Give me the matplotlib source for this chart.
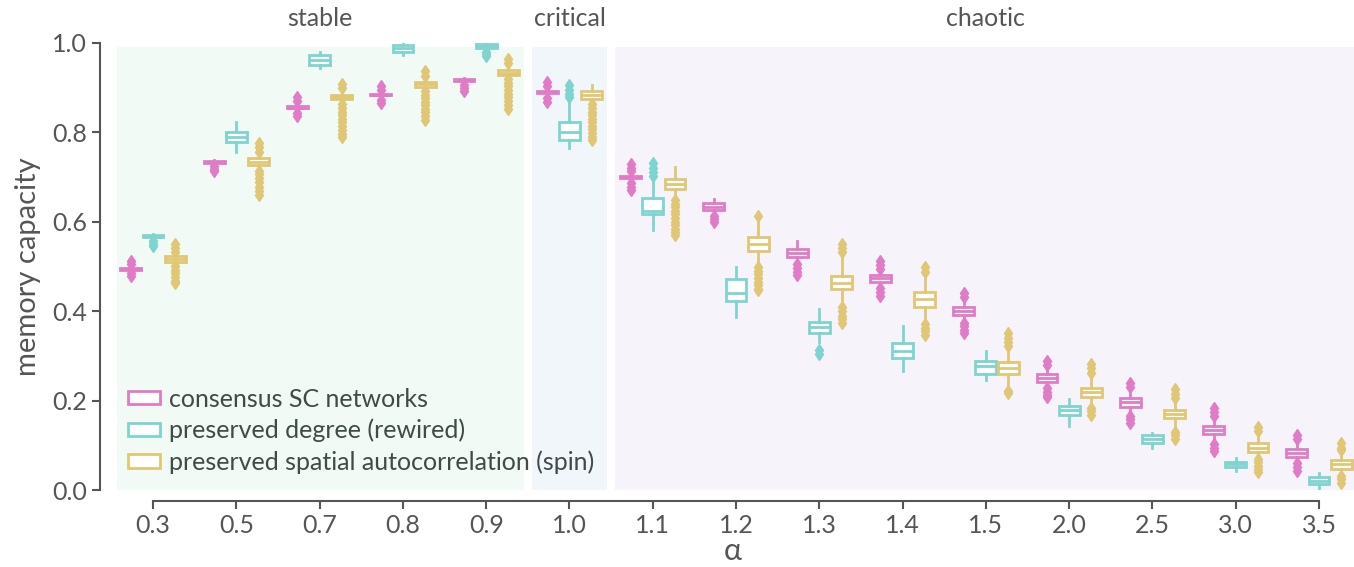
import numpy as np
import matplotlib
matplotlib.use('Agg')
import matplotlib.pyplot as plt
import matplotlib.transforms as mtransforms
from matplotlib.patches import Patch

plt.rcParams['font.family'] = ['Lato', 'DejaVu Sans']

alphas = ['0.3', '0.5', '0.7', '0.8', '0.9', '1.0', '1.1', '1.2', '1.3', '1.4',
          '1.5', '2.0', '2.5', '3.0', '3.5']
groups = ['consensus SC networks', 'preserved degree (rewired)',
          'preserved spatial autocorrelation (spin)']
colors = ['#e07cc6', '#7fd4d0', '#dfc776']

# consensus SC networks
cons_med = [0.494, 0.734, 0.855, 0.884, 0.916, 0.890, 0.700, 0.633, 0.530, 0.473, 0.400, 0.250, 0.196, 0.134, 0.083]
cons_q1 = [0.492, 0.732, 0.853, 0.882, 0.914, 0.888, 0.697, 0.626, 0.521, 0.465, 0.391, 0.242, 0.186, 0.125, 0.074]
cons_q3 = [0.497, 0.736, 0.858, 0.886, 0.918, 0.892, 0.703, 0.641, 0.538, 0.480, 0.410, 0.259, 0.205, 0.143, 0.092]
cons_lo = [0.489, 0.730, 0.850, 0.879, 0.912, 0.885, 0.693, 0.620, 0.512, 0.458, 0.382, 0.234, 0.178, 0.115, 0.066]
cons_hi = [0.500, 0.738, 0.861, 0.889, 0.920, 0.895, 0.707, 0.651, 0.556, 0.488, 0.420, 0.268, 0.215, 0.153, 0.100]
cons_fl = [[0.512, 0.505, 0.484, 0.478],
           [0.725, 0.718, 0.712],
           [0.878, 0.870, 0.842, 0.835],
           [0.902, 0.895, 0.872, 0.865],
           [0.905, 0.898, 0.893],
           [0.911, 0.903, 0.876, 0.868],
           [0.729, 0.720, 0.713, 0.686, 0.678, 0.670],
           [0.613, 0.605, 0.598],
           [0.505, 0.496, 0.487, 0.480],
           [0.512, 0.503, 0.495, 0.452, 0.443, 0.434],
           [0.440, 0.432, 0.374, 0.366, 0.358, 0.352],
           [0.288, 0.279, 0.228, 0.220, 0.212, 0.208],
           [0.240, 0.231, 0.166, 0.158, 0.150],
           [0.184, 0.175, 0.166, 0.103, 0.095, 0.088],
           [0.123, 0.114, 0.061, 0.052, 0.043]]

# preserved degree (rewired)
rew_med = [0.568, 0.789, 0.961, 0.987, 0.993, 0.800, 0.623, 0.441, 0.364, 0.311, 0.278, 0.178, 0.114, 0.058, 0.020]
rew_q1 = [0.565, 0.778, 0.950, 0.980, 0.989, 0.782, 0.617, 0.423, 0.352, 0.294, 0.259, 0.168, 0.104, 0.052, 0.013]
rew_q3 = [0.571, 0.800, 0.972, 0.994, 0.997, 0.823, 0.653, 0.471, 0.376, 0.329, 0.289, 0.188, 0.123, 0.063, 0.028]
rew_lo = [0.562, 0.756, 0.943, 0.972, 0.985, 0.764, 0.581, 0.387, 0.330, 0.267, 0.247, 0.143, 0.094, 0.043, 0.000]
rew_hi = [0.573, 0.822, 0.979, 1.000, 1.000, 0.875, 0.693, 0.499, 0.404, 0.366, 0.311, 0.203, 0.127, 0.071, 0.037]
rew_fl = [[0.556, 0.550, 0.545],
          [], [], [],
          [0.979, 0.974, 0.970],
          [0.906, 0.895, 0.885, 0.879],
          [0.730, 0.720, 0.710, 0.702],
          [],
          [0.312, 0.305],
          [], [], [], [], [], []]

# preserved spatial autocorrelation (spin)
spin_med = [0.516, 0.734, 0.879, 0.907, 0.933, 0.884, 0.684, 0.549, 0.463, 0.426, 0.272, 0.218, 0.170, 0.095, 0.058]
spin_q1 = [0.510, 0.726, 0.873, 0.901, 0.927, 0.875, 0.672, 0.535, 0.449, 0.410, 0.259, 0.207, 0.160, 0.086, 0.048]
spin_q3 = [0.522, 0.743, 0.884, 0.912, 0.939, 0.892, 0.695, 0.566, 0.478, 0.442, 0.287, 0.229, 0.179, 0.104, 0.067]
spin_lo = [0.505, 0.720, 0.868, 0.897, 0.922, 0.868, 0.655, 0.510, 0.425, 0.380, 0.235, 0.190, 0.140, 0.075, 0.038]
spin_hi = [0.527, 0.750, 0.889, 0.917, 0.944, 0.905, 0.721, 0.600, 0.525, 0.484, 0.310, 0.250, 0.196, 0.118, 0.080]
spin_fl = [[0.550, 0.540, 0.532, 0.500, 0.492, 0.484, 0.476, 0.468, 0.462],
           [0.776, 0.766, 0.756, 0.714, 0.706, 0.697, 0.688, 0.678, 0.668, 0.660],
           [0.908, 0.898, 0.862, 0.855, 0.846, 0.838, 0.830, 0.822, 0.814, 0.805, 0.796, 0.789],
           [0.936, 0.926, 0.892, 0.884, 0.876, 0.868, 0.860, 0.852, 0.844, 0.835, 0.826],
           [0.963, 0.954, 0.918, 0.910, 0.902, 0.894, 0.886, 0.878, 0.870, 0.861, 0.852],
           [0.862, 0.854, 0.846, 0.838, 0.830, 0.822, 0.814, 0.806, 0.798, 0.790, 0.782],
           [0.648, 0.640, 0.632, 0.624, 0.616, 0.608, 0.600, 0.592, 0.584, 0.576, 0.570],
           [0.612, 0.499, 0.490, 0.482, 0.474, 0.466, 0.458, 0.450, 0.446],
           [0.550, 0.540, 0.531, 0.410, 0.400, 0.390, 0.382, 0.374],
           [0.498, 0.488, 0.370, 0.362, 0.355, 0.347],
           [0.350, 0.340, 0.330, 0.322, 0.222, 0.216],
           [0.282, 0.272, 0.262, 0.184, 0.176, 0.168],
           [0.225, 0.215, 0.205, 0.130, 0.122, 0.114],
           [0.140, 0.131, 0.070, 0.062, 0.054, 0.046, 0.040],
           [0.104, 0.095, 0.090, 0.032, 0.024, 0.016]]

series = [(cons_med, cons_q1, cons_q3, cons_lo, cons_hi, cons_fl),
          (rew_med, rew_q1, rew_q3, rew_lo, rew_hi, rew_fl),
          (spin_med, spin_q1, spin_q3, spin_lo, spin_hi, spin_fl)]

txt = '#555555'

fig = plt.figure(figsize=(13.54, 5.67), dpi=100)
ax = fig.add_axes([0.0823, 0.1358, 0.9177, 0.789])

# regime backgrounds
ax.axvspan(-0.43, 4.45, ymin=0, ymax=0.99, color='#f1faf4', lw=0, zorder=0)
ax.axvspan(4.55, 5.45, ymin=0, ymax=0.99, color='#f1f6fb', lw=0, zorder=0)
ax.axvspan(5.55, 14.6, ymin=0, ymax=0.99, color='#f6f4fa', lw=0, zorder=0)

x = np.arange(len(alphas))
for i, (s, c) in enumerate(zip(series, colors)):
    med, q1, q3, lo, hi, fl = s
    stats = [dict(med=med[k], q1=q1[k], q3=q3[k], whislo=lo[k], whishi=hi[k],
                  fliers=fl[k]) for k in range(len(alphas))]
    ax.bxp(stats, positions=x + (i - 1) * 0.267, widths=0.25, patch_artist=True,
           showcaps=False, manage_ticks=False,
           boxprops=dict(facecolor='white', edgecolor=c, lw=2),
           medianprops=dict(color=c, lw=2),
           whiskerprops=dict(color=c, lw=2),
           flierprops=dict(marker='d', markerfacecolor=c, markeredgecolor=c,
                           markersize=6.5),
           zorder=3)

ax.set_xlim(-0.5, 14.42)
ax.set_ylim(0, 1.0)
ax.set_xticks(x)
ax.set_xticklabels(alphas)
ax.set_yticks(np.arange(0, 1.01, 0.2))
ax.set_yticklabels(['%.1f' % v for v in np.arange(0, 1.01, 0.2)])
ax.tick_params(labelsize=18, colors=txt, length=6, width=1.5)

for side in ['top', 'right']:
    ax.spines[side].set_visible(False)
for side in ['left', 'bottom']:
    ax.spines[side].set_position(('outward', 8))
    ax.spines[side].set_color(txt)
    ax.spines[side].set_linewidth(1.5)
ax.spines['left'].set_bounds(0, 1)
ax.spines['bottom'].set_bounds(0, 14)

ax.set_ylabel('memory capacity', fontsize=21, color=txt, labelpad=8)
ax.set_xlabel('α', fontsize=22, color=txt, labelpad=0)

trans = mtransforms.blended_transform_factory(ax.transData, ax.transAxes)
for xc, name in [(2, 'stable'), (5, 'critical'), (10, 'chaotic')]:
    ax.text(xc, 1.055, name, transform=trans, ha='center', va='center',
            fontsize=18, color=txt)

handles = [Patch(facecolor='white', edgecolor=c, lw=2, label=g)
           for g, c in zip(groups, colors)]
leg = ax.legend(handles=handles, loc='lower left', frameon=False, fontsize=18,
                handlelength=1.3, handleheight=0.45, handletextpad=0.35,
                labelspacing=0.32, borderaxespad=0.25)
for t in leg.get_texts():
    t.set_color('#3f4b46')

fig.savefig('out.png', dpi=100)
